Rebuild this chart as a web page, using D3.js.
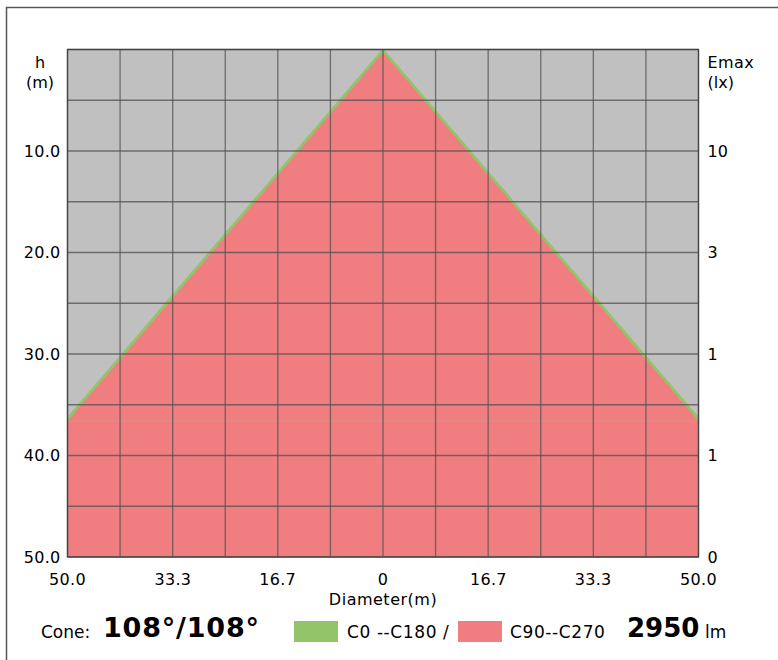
<!DOCTYPE html>
<html>
<head>
<meta charset="utf-8">
<script src="https://cdn.jsdelivr.net/npm/d3@7"></script>
<style>
  body { margin: 0; background: #fff; }
  svg text { font-family: "DejaVu Sans", Verdana, sans-serif; fill: #000; }
</style>
</head>
<body>
<div id="container"></div>
<script>
(function() {

// Values
let hTicks = [0, 5, 10, 15, 20, 25, 30, 35, 40, 45, 50];
let hLabels = [10, 20, 30, 40, 50];
let emaxLabels = ["10", "3", "1", "1", "0"];
let dTicks = [-50, -50 * 5 / 6, -50 * 4 / 6, -25, -50 * 2 / 6, -50 / 6, 0, 50 / 6, 50 * 2 / 6, 25, 50 * 4 / 6, 50 * 5 / 6, 50];
let dLabels = [-50, -33.3, -16.7, 0, 16.7, 33.3, 50];

// cone outlines (diameter, h) for both planes
let coneC0 = [[0, 0], [50, 36.3], [50, 50], [-50, 50], [-50, 36.3]];
let coneC90 = [[0, 0.3], [50, 36.6], [50, 50], [-50, 50], [-50, 36.6]];
let cutH = 36.6;

let legendNames = ["C0 --C180 /", "C90--C270"];
let coneText = "108°/108°";
let lumenText = "2950";

let width = 778, height = 660;
let margin = { left: 67.5, right: 79.5, top: 49.5, bottom: 103 };

let svg = d3.select("#container")
  .append("svg")
    .attr("width", width)
    .attr("height", height);

// outer frame
svg.append("rect")
  .attr("x", 6.5).attr("y", 7.5)
  .attr("width", 900).attr("height", 900)
  .attr("fill", "none")
  .attr("stroke", "#555")
  .attr("stroke-width", 1.5);

let x = d3.scaleLinear()
  .domain([-50, 50])
  .range([margin.left, width - margin.right]);
let y = d3.scaleLinear()
  .domain([0, 50])
  .range([margin.top, height - margin.bottom]);

svg.append("clipPath")
  .attr("id", "plot-clip")
  .append("rect")
    .attr("x", x(-50)).attr("y", y(0))
    .attr("width", x(50) - x(-50)).attr("height", y(50) - y(0));

// background
svg.append("rect")
  .attr("x", x(-50)).attr("y", y(0))
  .attr("width", x(50) - x(-50)).attr("height", y(50) - y(0))
  .attr("fill", "#c0c0c0");

let line = d3.line().x((d) => x(d[0])).y((d) => y(d[1]));
let plot = svg.append("g").attr("clip-path", "url(#plot-clip)");

plot.append("path")
  .attr("d", line(coneC0) + "Z")
  .attr("fill", "#92c56a")
  .attr("stroke", "#92c56a")
  .attr("stroke-width", 1.6);

plot.append("path")
  .attr("d", line(coneC90) + "Z")
  .attr("fill", "#f07e80");

plot.append("line")
  .attr("x1", x(-50)).attr("x2", x(50))
  .attr("y1", y(cutH)).attr("y2", y(cutH))
  .attr("stroke", "#c9a070")
  .attr("stroke-opacity", 0.6);

// grid
let grid = svg.append("g")
  .attr("stroke", "rgba(80,80,80,0.75)")
  .attr("stroke-width", 1.3);
grid.selectAll(".vg").data(dTicks).enter()
  .append("line")
    .attr("x1", (d) => x(d)).attr("x2", (d) => x(d))
    .attr("y1", y(0)).attr("y2", y(50));
grid.selectAll(".hg").data(hTicks).enter()
  .append("line")
    .attr("x1", x(-50)).attr("x2", x(50))
    .attr("y1", (d) => y(d)).attr("y2", (d) => y(d));

// plot border
svg.append("rect")
  .attr("x", x(-50)).attr("y", y(0))
  .attr("width", x(50) - x(-50)).attr("height", y(50) - y(0))
  .attr("fill", "none")
  .attr("stroke", "#444")
  .attr("stroke-width", 1.3);

// left axis labels
svg.selectAll(".hl").data(hLabels).enter()
  .append("text")
    .attr("x", x(-50) - 7)
    .attr("y", (d) => y(d) + 5.5)
    .attr("text-anchor", "end")
    .attr("font-size", 16)
    .attr("letter-spacing", 0.3)
    .text((d) => d.toFixed(1));
svg.append("text").attr("x", 40).attr("y", 68).attr("text-anchor", "middle")
  .attr("font-size", 16).text("h");
svg.append("text").attr("x", 40).attr("y", 88).attr("text-anchor", "middle")
  .attr("font-size", 16).text("(m)");

// right axis labels
svg.selectAll(".el").data(emaxLabels).enter()
  .append("text")
    .attr("x", x(50) + 9)
    .attr("y", (d, i) => y(hLabels[i]) + 5.5)
    .attr("font-size", 16)
    .text((d) => d);
svg.append("text").attr("x", x(50) + 9).attr("y", 68)
  .attr("font-size", 16).attr("letter-spacing", 0.4).text("Emax");
svg.append("text").attr("x", x(50) + 9).attr("y", 88)
  .attr("font-size", 16).text("(lx)");

// bottom labels
svg.selectAll(".dl").data(dLabels).enter()
  .append("text")
    .attr("x", (d) => x(d))
    .attr("y", 585)
    .attr("text-anchor", "middle")
    .attr("font-size", 16)
    .attr("letter-spacing", 0.3)
    .text((d) => d === 0 ? "0" : Math.abs(d).toFixed(1));
svg.append("text").attr("x", x(0)).attr("y", 605).attr("text-anchor", "middle")
  .attr("font-size", 16).attr("letter-spacing", 0.5).text("Diameter(m)");

// legend row
svg.append("text").attr("x", 41).attr("y", 638).attr("font-size", 17).text("Cone:");
svg.append("text").attr("x", 103).attr("y", 637).attr("font-size", 27)
  .attr("letter-spacing", 0.8)
  .attr("font-weight", "bold").text(coneText);

let swatchColors = ["#92c56a", "#f07e80"];
let swatchX = [294, 458];
let nameX = [347, 510];
legendNames.forEach((name, i) => {
  svg.append("rect")
    .attr("x", swatchX[i]).attr("y", 621)
    .attr("width", 44).attr("height", 21)
    .attr("fill", swatchColors[i]);
  svg.append("text").attr("x", nameX[i]).attr("y", 638)
    .attr("font-size", 17).attr("letter-spacing", 0.6).text(name);
});

svg.append("text").attr("x", 627).attr("y", 637).attr("font-size", 26)
  .attr("font-weight", "bold").text(lumenText);
svg.append("text").attr("x", 705).attr("y", 638).attr("font-size", 17).text("lm");

})();
</script>
</body>
</html>
